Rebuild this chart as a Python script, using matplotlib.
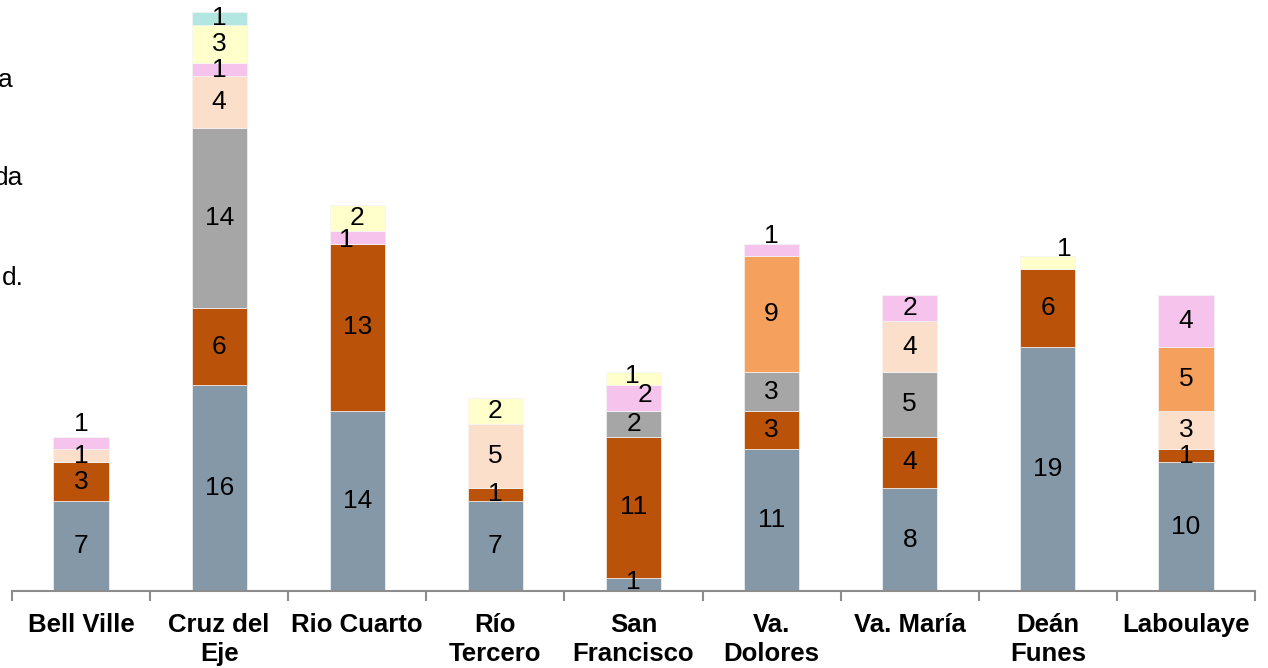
import matplotlib.pyplot as plt
import numpy as np

plt.rcParams['font.family'] = ['Liberation Sans', 'DejaVu Sans']

categories = ["Bell Ville", "Cruz del\nEje", "Rio Cuarto", "Río\nTercero", "San\nFrancisco",
              "Va.\nDolores", "Va. María", "Deán\nFunes", "Laboulaye"]

# stacked series, bottom to top
s_blue = [7, 16, 14, 7, 1, 11, 8, 19, 10]
s_rust = [3, 6, 13, 1, 11, 3, 4, 6, 1]
s_gray = [0, 14, 0, 0, 2, 3, 5, 0, 0]
s_peach = [1, 4, 0, 5, 0, 0, 4, 0, 3]
s_orange = [0, 0, 0, 0, 0, 9, 0, 0, 5]
s_pink = [1, 1, 1, 0, 2, 1, 2, 0, 4]
s_yellow = [0, 3, 2, 2, 1, 0, 0, 1, 0]
s_cyan = [0, 1, 0, 0, 0, 0, 0, 0, 0]

series = [s_blue, s_rust, s_gray, s_peach, s_orange, s_pink, s_yellow, s_cyan]
colors = ["#8598A8", "#BA5309", "#A6A6A6", "#FBDFCA", "#F5A05D", "#F5C3EC", "#FFFFCC", "#B3E6E0"]

# label nudges (points) where the original labels sit off-centre
nudges = {(0, 5): (0, 14), (2, 5): (-8, -2), (4, 5): (8, 2), (4, 6): (-1, 2),
          (5, 5): (0, 10), (7, 6): (12, 10), (4, 0): (0, 2)}

fig = plt.figure(figsize=(12.68, 6.68), dpi=100)
ax = fig.add_axes([12 / 1268, 77 / 668, 1243 / 1268, 591 / 668])

x = np.arange(len(categories))
bottom = np.zeros(len(categories))
for si, (vals, col) in enumerate(zip(series, colors)):
    vals = np.array(vals, dtype=float)
    ax.bar(x, vals, 0.4, bottom=bottom, color=col, edgecolor='#F4F4F4', linewidth=0.5)
    for ci, v in enumerate(vals):
        if v > 0:
            dx, dy = nudges.get((ci, si), (0, 0))
            ax.annotate(str(int(v)), (x[ci], bottom[ci] + v / 2), xytext=(dx, dy),
                        textcoords='offset points', ha='center', va='center',
                        fontsize=19, color='black')
    bottom += vals

ax.set_xlim(-0.5, len(categories) - 0.5)
ax.set_ylim(0, 45.93)
ax.set_yticks([])
for side in ['top', 'right', 'left']:
    ax.spines[side].set_visible(False)
ax.spines['bottom'].set_color('#8C8C8C')
ax.spines['bottom'].set_linewidth(1.5)

ax.set_xticks(x)
ax.set_xticklabels(categories, fontsize=18.5, fontweight='bold', linespacing=1.25)
ax.tick_params(axis='x', which='major', length=0, pad=16)
ax.set_xticks(np.arange(-0.5, len(categories)), minor=True)
ax.tick_params(axis='x', which='minor', length=7, width=1.5, color='#8C8C8C')

# legend text that is cut off at the left edge
fig.text(13 / 1268, 1 - 80 / 668, "a", ha='right', va='center', fontsize=19)
fig.text(23 / 1268, 1 - 178 / 668, "da", ha='right', va='center', fontsize=19)
fig.text(24 / 1268, 1 - 278 / 668, "d.", ha='right', va='center', fontsize=19)

fig.savefig("out.png", dpi=100)
